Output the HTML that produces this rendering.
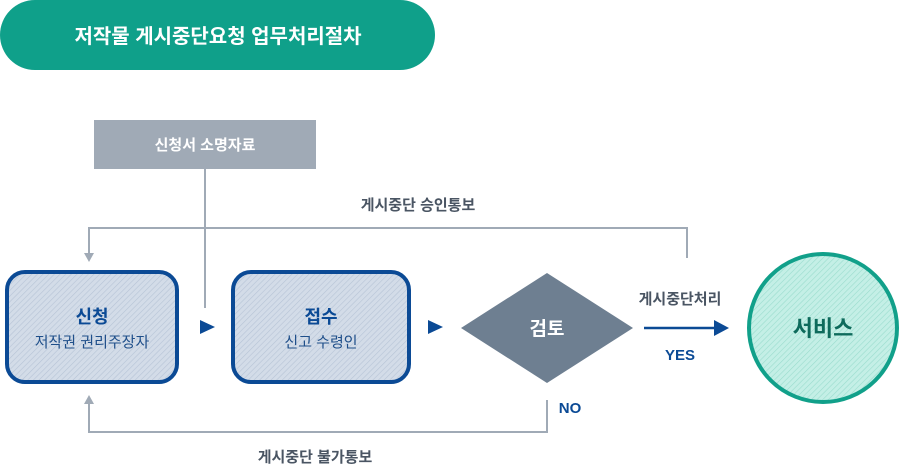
<!DOCTYPE html>
<html><head><meta charset="utf-8"><style>
html,body{margin:0;padding:0;background:#fff;}
svg{display:block;}
text{font-family:"Liberation Sans","Noto Sans CJK KR",sans-serif;}
</style></head><body>
<svg width="900" height="465" viewBox="0 0 900 465" xmlns="http://www.w3.org/2000/svg">
<defs>
<pattern id="hb" width="4" height="4" patternUnits="userSpaceOnUse" patternTransform="rotate(45)">
<rect width="4" height="4" fill="#d3dce8"/><line x1="0" y1="0" x2="0" y2="4" stroke="#b6c3d6" stroke-width="1.2"/>
</pattern>
<pattern id="hg" width="4" height="4" patternUnits="userSpaceOnUse" patternTransform="rotate(45)">
<rect width="4" height="4" fill="#c4efe6"/><line x1="0" y1="0" x2="0" y2="4" stroke="#9adccd" stroke-width="1.2"/>
</pattern>
</defs>
<rect x="0" y="0" width="435" height="70" rx="35" fill="#0fa08a"/>
<text x="218" y="43" text-anchor="middle" fill="#fff" font-size="20" font-weight="bold">저작물 게시중단요청 업무처리절차</text>

<rect x="94" y="120" width="222" height="49" fill="#a0aab6"/>
<text x="205" y="150" text-anchor="middle" fill="#fff" font-size="15" font-weight="bold">신청서 소명자료</text>
<line x1="205" y1="169" x2="205" y2="308" stroke="#a0aab6" stroke-width="2"/>

<polyline points="687,258 687,228 89,228 89,255" fill="none" stroke="#a0aab6" stroke-width="2"/>
<polygon points="84,253 94,253 89,262" fill="#a0aab6"/>
<text x="418" y="210" text-anchor="middle" fill="#4a5563" font-size="15" font-weight="bold">게시중단 승인통보</text>

<rect x="7" y="272" width="170" height="110" rx="18" fill="url(#hb)" stroke="#0b4a95" stroke-width="4"/>
<text x="92" y="323" text-anchor="middle" fill="#0b4a95" font-size="18" font-weight="bold">신청</text>
<text x="92" y="347" text-anchor="middle" fill="#1f4f8a" font-size="15">저작권 권리주장자</text>

<polygon points="200,320 215,327 200,334" fill="#0b4a95"/>

<rect x="233" y="272" width="176" height="110" rx="18" fill="url(#hb)" stroke="#0b4a95" stroke-width="4"/>
<text x="321" y="323" text-anchor="middle" fill="#0b4a95" font-size="18" font-weight="bold">접수</text>
<text x="321" y="347" text-anchor="middle" fill="#1f4f8a" font-size="15">신고 수령인</text>

<polygon points="428,320 443,327 428,334" fill="#0b4a95"/>

<polygon points="461,328 547,273 633,328 547,383" fill="#6e7f91"/>
<text x="547" y="335" text-anchor="middle" fill="#fff" font-size="19" font-weight="bold">검토</text>

<text x="680" y="304" text-anchor="middle" fill="#4a5563" font-size="15" font-weight="bold">게시중단처리</text>
<line x1="644" y1="328" x2="716" y2="328" stroke="#0b4a95" stroke-width="2.5"/>
<polygon points="714,320 729,328 714,336" fill="#0b4a95"/>
<text x="680" y="360" text-anchor="middle" fill="#0b4a95" font-size="15" font-weight="bold">YES</text>

<circle cx="823" cy="328" r="74" fill="url(#hg)" stroke="#11a08a" stroke-width="4"/>
<text x="823" y="336" text-anchor="middle" fill="#0e6b5c" font-size="22" font-weight="bold">서비스</text>

<polyline points="547,400 547,432 89,432 89,402" fill="none" stroke="#a0aab6" stroke-width="2"/>
<polygon points="84,404 94,404 89,395" fill="#a0aab6"/>
<text x="570" y="413" text-anchor="middle" fill="#0b4a95" font-size="15" font-weight="bold">NO</text>
<text x="315" y="462" text-anchor="middle" fill="#4a5563" font-size="15" font-weight="bold">게시중단 불가통보</text>
</svg>
</body></html>
